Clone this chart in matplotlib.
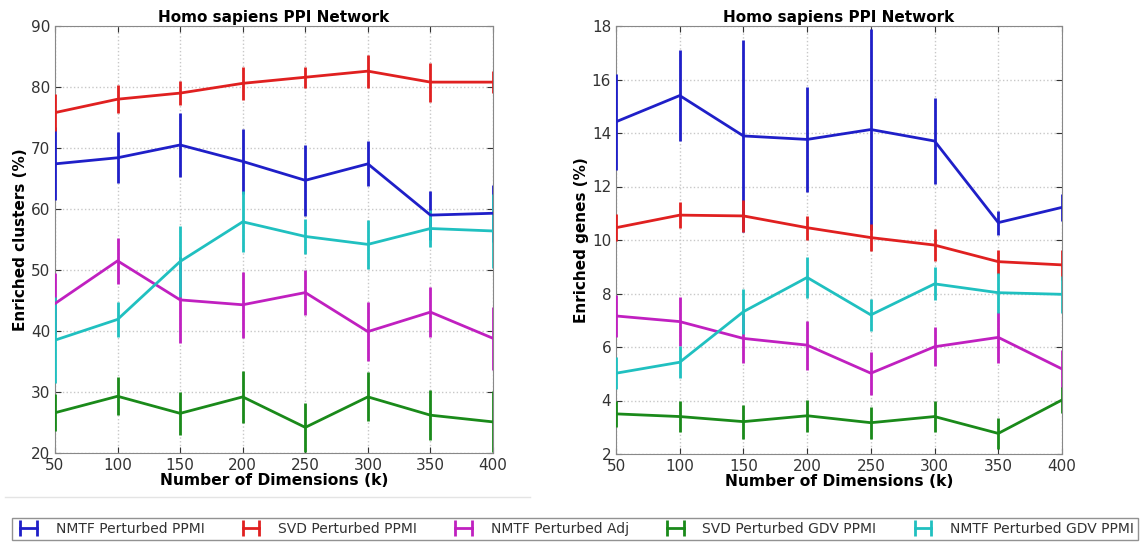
import numpy as np
import matplotlib.pyplot as plt
from matplotlib.lines import Line2D

dims = [50, 100, 150, 200, 250, 300, 350, 400]
labels = ["NMTF Perturbed PPMI", "SVD Perturbed PPMI", "NMTF Perturbed Adj",
          "SVD Perturbed GDV PPMI", "NMTF Perturbed GDV PPMI"]
colors = ["#1f1fc8", "#e02020", "#c020c0", "#1a8a1a", "#20c0c0"]

# left panel: enriched clusters (%)
clu_nmtf_ppmi = [67.4, 68.4, 70.5, 67.8, 64.7, 67.4, 59.0, 59.3]
clu_nmtf_ppmi_err = [6.0, 4.2, 5.2, 5.3, 5.8, 3.7, 4.0, 4.7]
clu_svd_ppmi = [75.8, 78.0, 79.0, 80.6, 81.6, 82.6, 80.8, 80.8]
clu_svd_ppmi_err = [3.0, 2.3, 2.0, 2.7, 1.7, 2.7, 3.2, 1.8]
clu_nmtf_adj = [44.5, 51.5, 45.1, 44.3, 46.3, 39.9, 43.1, 38.8]
clu_nmtf_adj_err = [5.0, 3.8, 7.0, 5.4, 3.7, 4.8, 4.1, 5.2]
clu_svd_gdv = [26.6, 29.3, 26.5, 29.2, 24.2, 29.2, 26.2, 25.1]
clu_svd_gdv_err = [3.0, 3.1, 3.5, 4.3, 4.0, 4.0, 4.1, 5.0]
clu_nmtf_gdv = [38.5, 41.9, 51.4, 57.9, 55.5, 54.2, 56.8, 56.4]
clu_nmtf_gdv_err = [7.0, 2.9, 5.8, 5.0, 2.8, 4.0, 3.0, 6.0]

# right panel: enriched genes (%)
gen_nmtf_ppmi = [14.42, 15.4, 13.89, 13.76, 14.13, 13.70, 10.65, 11.22]
gen_nmtf_ppmi_err = [1.8, 1.7, 3.6, 1.95, 3.75, 1.6, 0.45, 0.5]
gen_svd_ppmi = [10.46, 10.93, 10.9, 10.46, 10.09, 9.81, 9.19, 9.07]
gen_svd_ppmi_err = [0.5, 0.5, 0.6, 0.45, 0.5, 0.6, 0.45, 0.55]
gen_nmtf_adj = [7.16, 6.95, 6.32, 6.07, 5.02, 6.01, 6.36, 5.18]
gen_nmtf_adj_err = [0.8, 0.93, 0.9, 0.92, 0.8, 0.73, 0.95, 0.7]
gen_svd_gdv = [3.5, 3.4, 3.21, 3.43, 3.17, 3.4, 2.77, 4.02]
gen_svd_gdv_err = [0.5, 0.58, 0.64, 0.6, 0.6, 0.58, 0.58, 0.5]
gen_nmtf_gdv = [5.02, 5.43, 7.32, 8.6, 7.2, 8.36, 8.03, 7.97]
gen_nmtf_gdv_err = [0.6, 0.6, 0.85, 0.76, 0.6, 0.62, 0.75, 0.7]

left = [(clu_nmtf_ppmi, clu_nmtf_ppmi_err), (clu_svd_ppmi, clu_svd_ppmi_err),
        (clu_nmtf_adj, clu_nmtf_adj_err), (clu_svd_gdv, clu_svd_gdv_err),
        (clu_nmtf_gdv, clu_nmtf_gdv_err)]
right = [(gen_nmtf_ppmi, gen_nmtf_ppmi_err), (gen_svd_ppmi, gen_svd_ppmi_err),
         (gen_nmtf_adj, gen_nmtf_adj_err), (gen_svd_gdv, gen_svd_gdv_err),
         (gen_nmtf_gdv, gen_nmtf_gdv_err)]

fig = plt.figure(figsize=(11.41, 5.43), dpi=100)
ax1 = fig.add_axes([55 / 1141, 1 - 453 / 543, 438 / 1141, 427 / 543])
ax2 = fig.add_axes([616 / 1141, 1 - 454 / 543, 446 / 1141, 428 / 543])


def draw(ax, series, ylim, yticks, ylabel):
    for (vals, errs), c in zip(series, colors):
        ax.errorbar(dims, vals, yerr=errs, color=c, lw=2, elinewidth=2,
                    capsize=0, zorder=3)
    ax.set_xlim(50, 400)
    ax.set_ylim(*ylim)
    ax.set_xticks(dims)
    ax.set_yticks(yticks)
    ax.grid(True, color="#c8c8c8", linestyle=":", linewidth=1)
    ax.tick_params(direction="in", labelsize=11, colors="#333333",
                   top=True, right=True, length=4)
    for s in ax.spines.values():
        s.set_color("#888888")
    ax.set_title("Homo sapiens PPI Network", fontsize=11, fontweight="bold", pad=3)
    ax.set_xlabel("Number of Dimensions (k)", fontsize=11.2, fontweight="bold", labelpad=0)
    ax.set_ylabel(ylabel, fontsize=11, fontweight="bold", labelpad=2)


draw(ax1, left, (20, 90), range(20, 91, 10), "Enriched clusters (%)")
draw(ax2, right, (2, 18), range(2, 19, 2), "Enriched genes (%)")

# faint separator under the left panel
fig.add_artist(Line2D([5 / 1141, 530 / 1141], [1 - 497 / 543] * 2,
                      color="#e4e4e4", lw=1))

handles = [Line2D([], [], color=c, lw=2, marker="|", markersize=11,
                  markeredgewidth=2) for c in colors]
leg = fig.legend(handles, labels, loc="center", ncol=5, numpoints=2,
                 bbox_to_anchor=(575 / 1141, 1 - 529 / 543), fontsize=10,
                 frameon=True, fancybox=False, handlelength=1.8,
                 columnspacing=2.45, borderpad=0.3, handletextpad=1.05,
                 borderaxespad=0)
leg.get_frame().set_edgecolor("#777777")
leg.get_frame().set_linewidth(1.0)
for t in leg.get_texts():
    t.set_color("#333333")

fig.savefig("out.png", dpi=100)
